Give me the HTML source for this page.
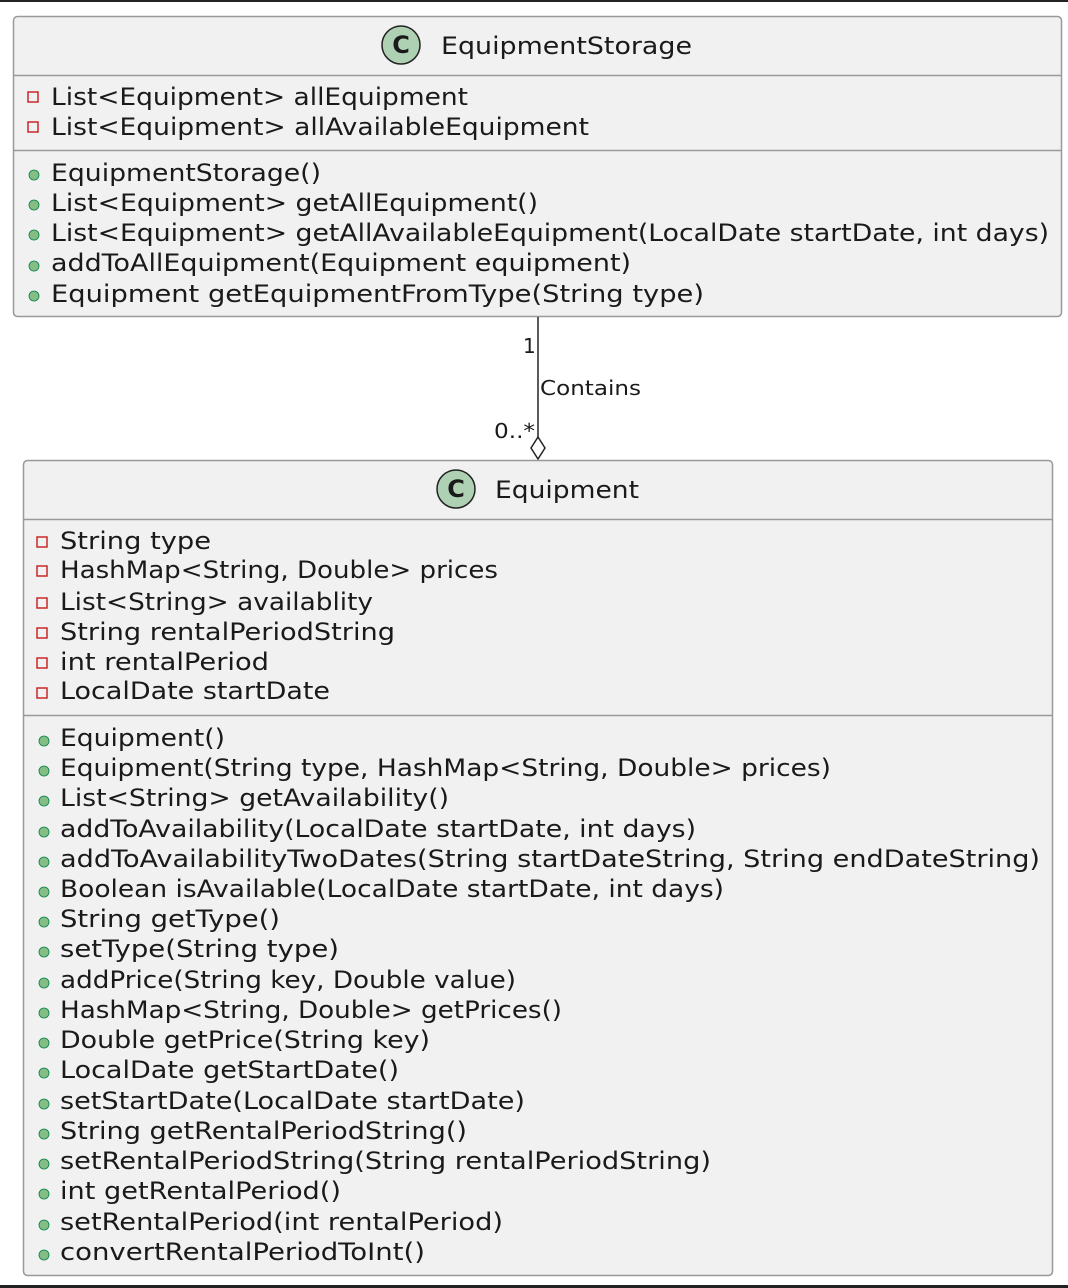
<!DOCTYPE html>
<html><head><style>
html,body{margin:0;padding:0;background:#fff;}
svg{display:block;}
text{font-family:"DejaVu Sans","Liberation Sans",sans-serif;fill:#1a1a1a;}
</style></head><body>
<svg width="1068" height="1288" viewBox="0 0 1068 1288" xmlns="http://www.w3.org/2000/svg">
<rect x="0" y="0" width="1068" height="2" fill="#222"/>
<rect x="0" y="1285" width="1068" height="3" fill="#222"/>

<!-- Box 1 -->
<rect x="13.5" y="16.5" width="1048" height="300" rx="4" fill="#f1f1f1" stroke="#999" stroke-width="1.5"/>
<line x1="13.5" y1="75.5" x2="1061.5" y2="75.5" stroke="#999" stroke-width="1.5"/>
<line x1="13.5" y1="150.5" x2="1061.5" y2="150.5" stroke="#999" stroke-width="1.5"/>
<circle cx="401" cy="45" r="19" fill="#add1b2" stroke="#222" stroke-width="1.5"/>
<text x="401" y="53" text-anchor="middle" font-size="24" font-weight="bold">C</text>
<text x="441" y="54" font-size="24" textLength="251" lengthAdjust="spacingAndGlyphs">EquipmentStorage</text>

<g fill="none" stroke="#c82929" stroke-width="1.5">
<rect x="28" y="92" width="10" height="10"/><rect x="28" y="122" width="10" height="10"/>
</g>
<g font-size="24">
<text x="51" y="105" textLength="417" lengthAdjust="spacingAndGlyphs">List&lt;Equipment&gt; allEquipment</text>
<text x="51" y="135" textLength="538" lengthAdjust="spacingAndGlyphs">List&lt;Equipment&gt; allAvailableEquipment</text>
</g>
<g fill="#84be84" stroke="#038048" stroke-width="0.8">
<circle cx="34" cy="175" r="5"/><circle cx="34" cy="205" r="5"/><circle cx="34" cy="235" r="5"/><circle cx="34" cy="266" r="5"/><circle cx="34" cy="296" r="5"/>
</g>
<g font-size="24">
<text x="51" y="181" textLength="270" lengthAdjust="spacingAndGlyphs">EquipmentStorage()</text>
<text x="51" y="211" textLength="487" lengthAdjust="spacingAndGlyphs">List&lt;Equipment&gt; getAllEquipment()</text>
<text x="51" y="241" textLength="998" lengthAdjust="spacingAndGlyphs">List&lt;Equipment&gt; getAllAvailableEquipment(LocalDate startDate, int days)</text>
<text x="51" y="271" textLength="580" lengthAdjust="spacingAndGlyphs">addToAllEquipment(Equipment equipment)</text>
<text x="51" y="302" textLength="653" lengthAdjust="spacingAndGlyphs">Equipment getEquipmentFromType(String type)</text>
</g>

<!-- connector -->
<line x1="538" y1="317" x2="538" y2="438" stroke="#222" stroke-width="1.5"/>
<polygon points="538,437 545,448 538,459 531,448" fill="#fff" stroke="#222" stroke-width="1.5"/>
<text x="523" y="353" font-size="20">1</text>
<text x="540" y="395" font-size="20" textLength="101" lengthAdjust="spacingAndGlyphs">Contains</text>
<text x="494" y="438" font-size="20" textLength="41" lengthAdjust="spacingAndGlyphs">0..*</text>

<!-- Box 2 -->
<rect x="23.5" y="460.5" width="1029" height="815" rx="4" fill="#f1f1f1" stroke="#999" stroke-width="1.5"/>
<line x1="23.5" y1="519.5" x2="1052.5" y2="519.5" stroke="#999" stroke-width="1.5"/>
<line x1="23.5" y1="715.5" x2="1052.5" y2="715.5" stroke="#999" stroke-width="1.5"/>
<circle cx="456" cy="489" r="19" fill="#add1b2" stroke="#222" stroke-width="1.5"/>
<text x="456" y="497" text-anchor="middle" font-size="24" font-weight="bold">C</text>
<text x="495" y="498" font-size="24" textLength="144" lengthAdjust="spacingAndGlyphs">Equipment</text>

<g fill="none" stroke="#c82929" stroke-width="1.5">
<rect x="37" y="537" width="10" height="10"/><rect x="37" y="566" width="10" height="10"/><rect x="37" y="598" width="10" height="10"/><rect x="37" y="628" width="10" height="10"/><rect x="37" y="658" width="10" height="10"/><rect x="37" y="688" width="10" height="10"/>
</g>
<g font-size="24">
<text x="60" y="549" textLength="151" lengthAdjust="spacingAndGlyphs">String type</text>
<text x="60" y="578" textLength="438" lengthAdjust="spacingAndGlyphs">HashMap&lt;String, Double&gt; prices</text>
<text x="60" y="610" textLength="313" lengthAdjust="spacingAndGlyphs">List&lt;String&gt; availablity</text>
<text x="60" y="640" textLength="335" lengthAdjust="spacingAndGlyphs">String rentalPeriodString</text>
<text x="60" y="670" textLength="209" lengthAdjust="spacingAndGlyphs">int rentalPeriod</text>
<text x="60" y="699" textLength="270" lengthAdjust="spacingAndGlyphs">LocalDate startDate</text>
</g>
<g fill="#84be84" stroke="#038048" stroke-width="0.8">
<circle cx="44" cy="741" r="5"/><circle cx="44" cy="771" r="5"/><circle cx="44" cy="801" r="5"/><circle cx="44" cy="832" r="5"/><circle cx="44" cy="862" r="5"/><circle cx="44" cy="892" r="5"/><circle cx="44" cy="922" r="5"/><circle cx="44" cy="952" r="5"/><circle cx="44" cy="983" r="5"/><circle cx="44" cy="1013" r="5"/><circle cx="44" cy="1043" r="5"/><circle cx="44" cy="1073" r="5"/><circle cx="44" cy="1104" r="5"/><circle cx="44" cy="1134" r="5"/><circle cx="44" cy="1164" r="5"/><circle cx="44" cy="1194" r="5"/><circle cx="44" cy="1225" r="5"/><circle cx="44" cy="1255" r="5"/>
</g>
<g font-size="24">
<text x="60" y="746" textLength="165" lengthAdjust="spacingAndGlyphs">Equipment()</text>
<text x="60" y="776" textLength="771" lengthAdjust="spacingAndGlyphs">Equipment(String type, HashMap&lt;String, Double&gt; prices)</text>
<text x="60" y="806" textLength="389" lengthAdjust="spacingAndGlyphs">List&lt;String&gt; getAvailability()</text>
<text x="60" y="837" textLength="636" lengthAdjust="spacingAndGlyphs">addToAvailability(LocalDate startDate, int days)</text>
<text x="60" y="867" textLength="980" lengthAdjust="spacingAndGlyphs">addToAvailabilityTwoDates(String startDateString, String endDateString)</text>
<text x="60" y="897" textLength="664" lengthAdjust="spacingAndGlyphs">Boolean isAvailable(LocalDate startDate, int days)</text>
<text x="60" y="927" textLength="220" lengthAdjust="spacingAndGlyphs">String getType()</text>
<text x="60" y="957" textLength="279" lengthAdjust="spacingAndGlyphs">setType(String type)</text>
<text x="60" y="988" textLength="456" lengthAdjust="spacingAndGlyphs">addPrice(String key, Double value)</text>
<text x="60" y="1018" textLength="502" lengthAdjust="spacingAndGlyphs">HashMap&lt;String, Double&gt; getPrices()</text>
<text x="60" y="1048" textLength="370" lengthAdjust="spacingAndGlyphs">Double getPrice(String key)</text>
<text x="60" y="1078" textLength="339" lengthAdjust="spacingAndGlyphs">LocalDate getStartDate()</text>
<text x="60" y="1109" textLength="465" lengthAdjust="spacingAndGlyphs">setStartDate(LocalDate startDate)</text>
<text x="60" y="1139" textLength="407" lengthAdjust="spacingAndGlyphs">String getRentalPeriodString()</text>
<text x="60" y="1169" textLength="651" lengthAdjust="spacingAndGlyphs">setRentalPeriodString(String rentalPeriodString)</text>
<text x="60" y="1199" textLength="281" lengthAdjust="spacingAndGlyphs">int getRentalPeriod()</text>
<text x="60" y="1230" textLength="443" lengthAdjust="spacingAndGlyphs">setRentalPeriod(int rentalPeriod)</text>
<text x="60" y="1260" textLength="365" lengthAdjust="spacingAndGlyphs">convertRentalPeriodToInt()</text>
</g>
</svg>
</body></html>
